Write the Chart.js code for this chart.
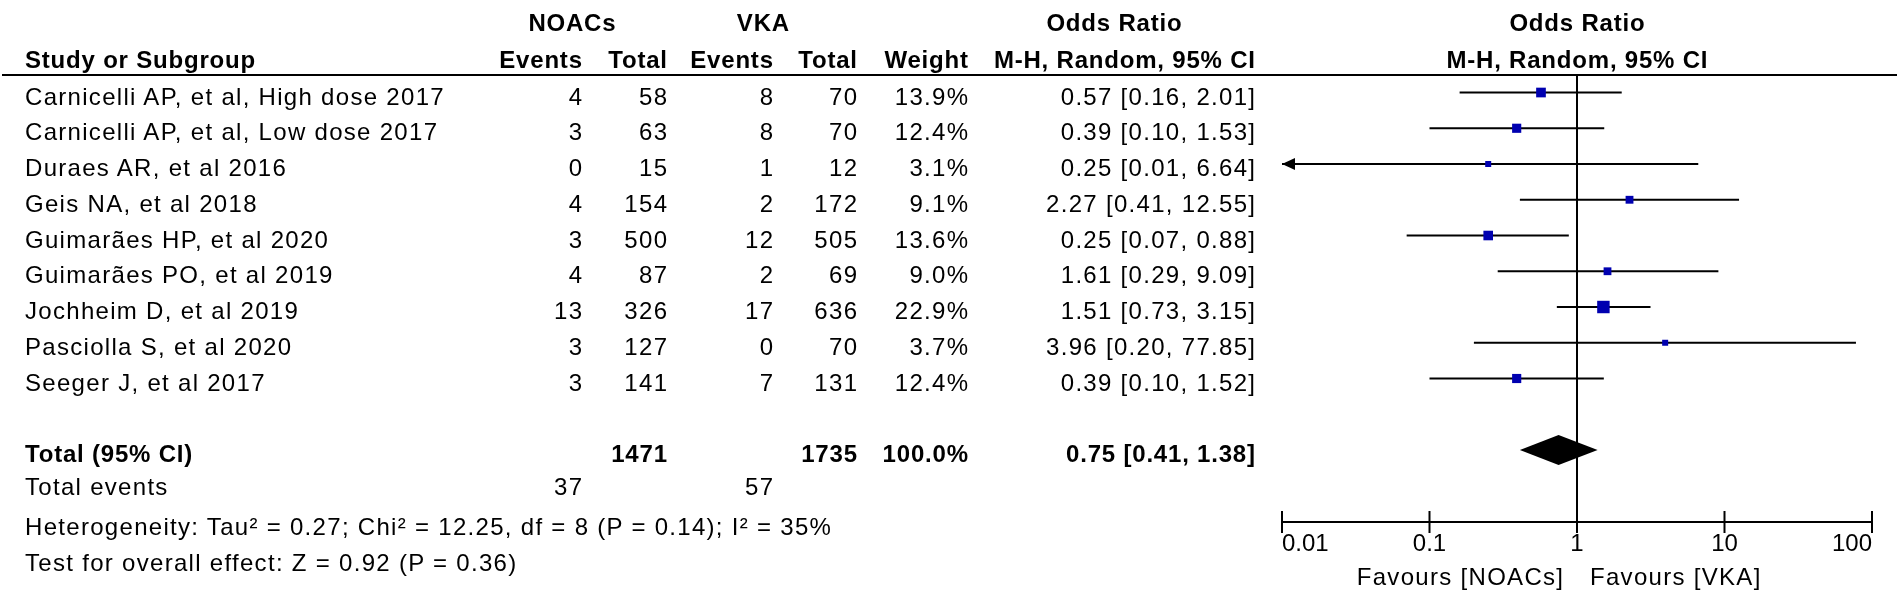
<!DOCTYPE html>
<html>
<head>
<meta charset="utf-8">
<title>Forest plot: NOACs vs VKA</title>
<script src="https://cdn.jsdelivr.net/npm/chart.js@4.4.1/dist/chart.umd.min.js"></script>
<style>
  html, body { margin: 0; padding: 0; background: #fff; }
  #wrap {
    position: relative; width: 1902px; height: 596px; overflow: hidden;
    font-family: 'Liberation Sans', Arial, sans-serif; font-size: 24px; color: #000;
  }
  #plot { position: absolute; left: 0; top: 0; }
  .t { position: absolute; white-space: nowrap; line-height: 30px; height: 30px; letter-spacing: 1.3px; }
  .b { font-weight: bold; letter-spacing: 0.8px; }
  .rule { position: absolute; left: 2px; width: 1895px; top: 74px; height: 2px; background: #000; }
</style>
</head>
<body>
<div id="wrap">
  <canvas id="plot" width="1902" height="596"></canvas>
  <div class="rule"></div>
</div>
<script>
// data
const studies = [
    'Carnicelli AP, et al, High dose 2017',
    'Carnicelli AP, et al, Low dose 2017',
    'Duraes AR, et al 2016',
    'Geis NA, et al 2018',
    'Guimarães HP, et al 2020',
    'Guimarães PO, et al 2019',
    'Jochheim D, et al 2019',
    'Pasciolla S, et al 2020',
    'Seeger J, et al 2017'
];
const noacEvents = [4, 3, 0, 4, 3, 4, 13, 3, 3];
const noacTotal = [58, 63, 15, 154, 500, 87, 326, 127, 141];
const vkaEvents = [8, 8, 1, 2, 12, 2, 17, 0, 7];
const vkaTotal = [70, 70, 12, 172, 505, 69, 636, 70, 131];
const weights = [13.9, 12.4, 3.1, 9.1, 13.6, 9.0, 22.9, 3.7, 12.4];
const oddsRatio = [0.57, 0.39, 0.25, 2.27, 0.25, 1.61, 1.51, 3.96, 0.39];
const ciLow = [0.16, 0.10, 0.01, 0.41, 0.07, 0.29, 0.73, 0.20, 0.10];
const ciHigh = [2.01, 1.53, 6.64, 12.55, 0.88, 9.09, 3.15, 77.85, 1.52];

const pooled = [0.75, 0.41, 1.38];           // OR, lower, upper
const totals = [1471, 1735];                 // NOACs total, VKA total
const totalEvents = [37, 57];
const totalWeight = 100.0;
const heterogeneity = 'Heterogeneity: Tau² = 0.27; Chi² = 12.25, df = 8 (P = 0.14); I² = 35%';
const overallEffect = 'Test for overall effect: Z = 0.92 (P = 0.36)';
const xTicks = [0.01, 0.1, 1, 10, 100];

// layout
const W = 1902;
const LS = 1.3, LSB = 0.8;
const nameX = 25, noacEvX = 582, noacTotX = 667, vkaEvX = 773, vkaTotX = 857, weightX = 968, ciTextX = 1255;
const totalRow = studies.length + 1;
const blue = '#0000b0';

const wrap = document.getElementById('wrap');

function addText(str, x, y, align, bold) {
    const el = document.createElement('div');
    el.className = 't' + (bold ? ' b' : '');
    el.textContent = str;
    el.style.top = (y - 15) + 'px';
    const ls = bold ? LSB : LS;
    if (align === 'right') {
        el.style.right = (W - x - ls) + 'px';
    } else if (align === 'center') {
        el.style.left = (x - 300 + ls / 2) + 'px';
        el.style.width = '600px';
        el.style.textAlign = 'center';
    } else {
        el.style.left = x + 'px';
    }
    wrap.appendChild(el);
}

function fmtCI(or, lo, hi) {
    return `${or.toFixed(2)} [${lo.toFixed(2)}, ${hi.toFixed(2)}]`;
}

function arrow(ctx, tipX, y, dir) {
    ctx.beginPath();
    ctx.moveTo(tipX, y);
    ctx.lineTo(tipX + dir * 13, y - 6);
    ctx.lineTo(tipX + dir * 13, y + 6);
    ctx.closePath();
    ctx.fill();
}

const forestPlugin = {
    id: 'forest',
    beforeDatasetsDraw(chart) {
        const { ctx, chartArea, scales: { x, y } } = chart;
        ctx.save();
        ctx.strokeStyle = '#000';
        ctx.fillStyle = '#000';
        ctx.lineWidth = 2;

        // line of no effect
        const x1 = x.getPixelForValue(1);
        ctx.beginPath();
        ctx.moveTo(x1, chartArea.top);
        ctx.lineTo(x1, chartArea.bottom);
        ctx.stroke();

        // confidence intervals
        studies.forEach((s, i) => {
            const py = y.getPixelForValue(i);
            const a = x.getPixelForValue(Math.max(ciLow[i], x.min));
            const b = x.getPixelForValue(Math.min(ciHigh[i], x.max));
            ctx.beginPath();
            ctx.moveTo(a, py);
            ctx.lineTo(b, py);
            ctx.stroke();
            if (ciLow[i] <= x.min) arrow(ctx, a, py, 1);
            if (ciHigh[i] >= x.max) arrow(ctx, b, py, -1);
        });

        // pooled diamond
        const dy = y.getPixelForValue(totalRow);
        ctx.beginPath();
        ctx.moveTo(x.getPixelForValue(pooled[1]), dy);
        ctx.lineTo(x.getPixelForValue(pooled[0]), dy - 15);
        ctx.lineTo(x.getPixelForValue(pooled[2]), dy);
        ctx.lineTo(x.getPixelForValue(pooled[0]), dy + 15);
        ctx.closePath();
        ctx.fill();

        // axis tick marks (both sides of the axis)
        xTicks.forEach(v => {
            const px = x.getPixelForValue(v);
            ctx.beginPath();
            ctx.moveTo(px, chartArea.bottom - 11);
            ctx.lineTo(px, chartArea.bottom + 11);
            ctx.stroke();
        });
        ctx.restore();
    }
};

const chart = new Chart(document.getElementById('plot'), {
    type: 'scatter',
    data: {
        datasets: [{
            data: oddsRatio.map((v, i) => ({ x: v, y: i })),
            pointStyle: 'rect',
            pointRadius: weights.map(w => Math.max(6, 2.6 * Math.sqrt(w)) / Math.SQRT2),
            backgroundColor: blue,
            borderWidth: 0
        }]
    },
    options: {
        responsive: false,
        animation: false,
        events: [],
        layout: { padding: { left: 1282, right: 30, top: 75, bottom: 34 } },
        plugins: { legend: { display: false }, tooltip: { enabled: false } },
        scales: {
            x: {
                type: 'logarithmic',
                min: 0.01,
                max: 100,
                afterBuildTicks: scale => { scale.ticks = xTicks.map(v => ({ value: v })); },
                afterFit: scale => { scale.height = 40; },
                grid: { display: false, drawTicks: false },
                border: { display: true, color: '#000', width: 2 },
                ticks: {
                    callback: v => String(v),
                    color: '#000',
                    font: { family: "'Liberation Sans', Arial, sans-serif", size: 24 },
                    padding: 8,
                    align: 'inner',
                    maxRotation: 0,
                    autoSkip: false
                }
            },
            y: {
                type: 'linear',
                reverse: true,
                min: -0.49,
                max: 12.014,
                display: false
            }
        }
    },
    plugins: [forestPlugin]
});

// table text, aligned to the chart's row scale
const ys = chart.scales.y;
const plotMid = chart.scales.x.getPixelForValue(1);
const rowY = i => ys.getPixelForValue(i) + 4;

addText('NOACs', 572, 23, 'center', true);
addText('VKA', 763, 23, 'center', true);
addText('Odds Ratio', 1114, 23, 'center', true);
addText('Odds Ratio', plotMid, 23, 'center', true);
addText('Study or Subgroup', nameX, 60, 'left', true);
addText('Events', noacEvX, 60, 'right', true);
addText('Total', noacTotX, 60, 'right', true);
addText('Events', vkaEvX, 60, 'right', true);
addText('Total', vkaTotX, 60, 'right', true);
addText('Weight', weightX, 60, 'right', true);
addText('M-H, Random, 95% CI', ciTextX, 60, 'right', true);
addText('M-H, Random, 95% CI', plotMid, 60, 'center', true);

studies.forEach((name, i) => {
    const y = rowY(i);
    addText(name, nameX, y, 'left');
    addText(String(noacEvents[i]), noacEvX, y, 'right');
    addText(String(noacTotal[i]), noacTotX, y, 'right');
    addText(String(vkaEvents[i]), vkaEvX, y, 'right');
    addText(String(vkaTotal[i]), vkaTotX, y, 'right');
    addText(weights[i].toFixed(1) + '%', weightX, y, 'right');
    addText(fmtCI(oddsRatio[i], ciLow[i], ciHigh[i]), ciTextX, y, 'right');
});

const ty = rowY(totalRow);
addText('Total (95% CI)', nameX, ty, 'left', true);
addText(String(totals[0]), noacTotX, ty, 'right', true);
addText(String(totals[1]), vkaTotX, ty, 'right', true);
addText(totalWeight.toFixed(1) + '%', weightX, ty, 'right', true);
addText(fmtCI(pooled[0], pooled[1], pooled[2]), ciTextX, ty, 'right', true);

addText('Total events', nameX, 487, 'left');
addText(String(totalEvents[0]), noacEvX, 487, 'right');
addText(String(totalEvents[1]), vkaEvX, 487, 'right');
addText(heterogeneity, nameX, 527, 'left');
addText(overallEffect, nameX, 563, 'left');

addText('Favours [NOACs]', plotMid - 14, 577, 'right');
addText('Favours [VKA]', plotMid + 13, 577, 'left');
</script>
</body>
</html>
